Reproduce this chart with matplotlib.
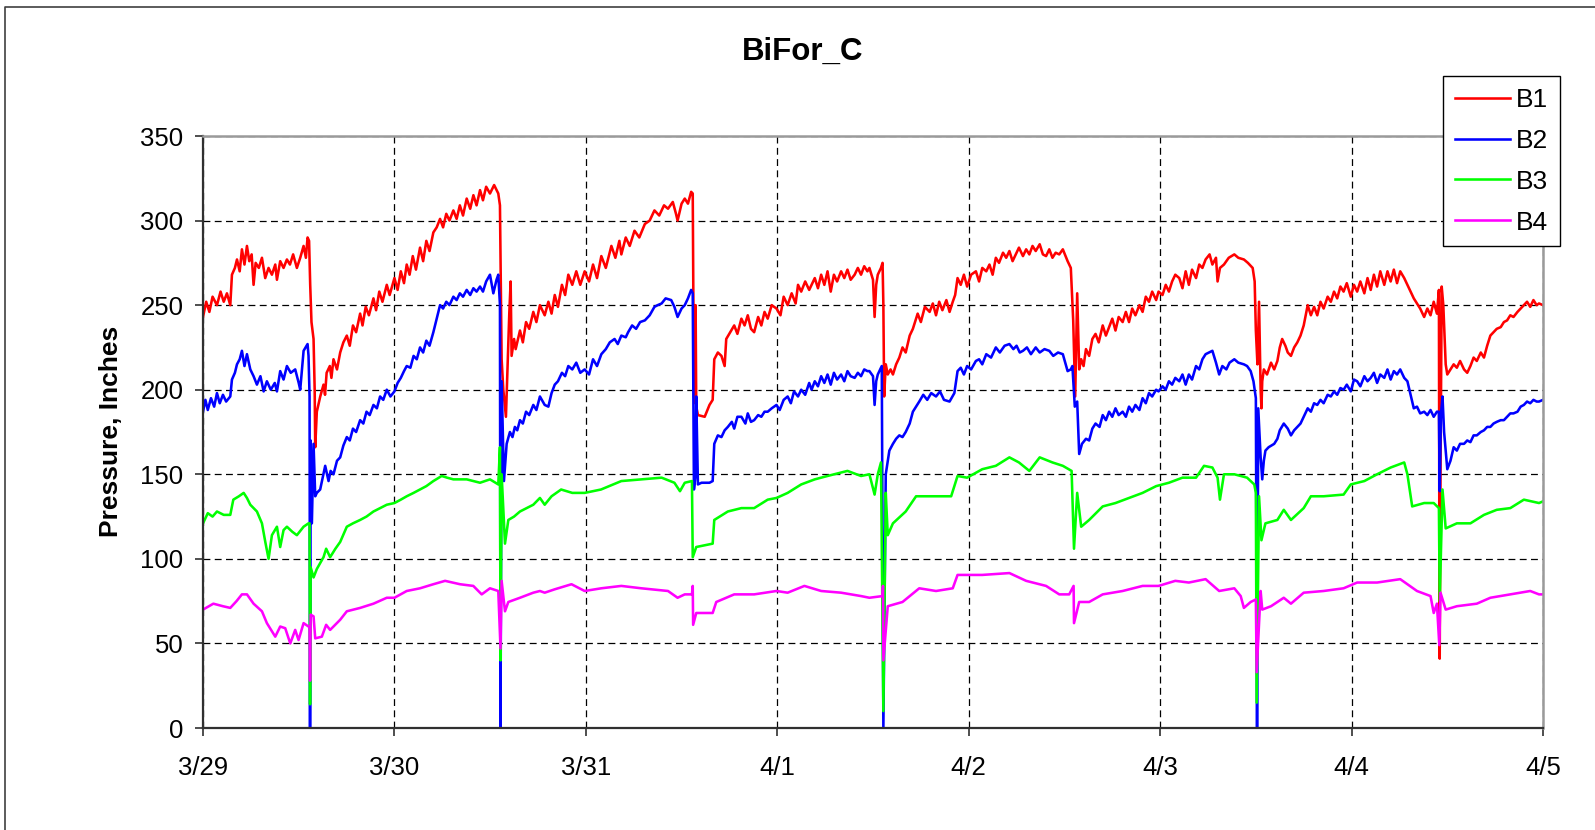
import matplotlib
matplotlib.use("Agg")
import matplotlib.pyplot as plt
from matplotlib.lines import Line2D

plt.rcParams['font.family'] = ['Liberation Sans', 'DejaVu Sans']

# readings: (hours since 3/29 00:00, pressure in inches)
B1_POINTS = [
    (0, 243), (0.4, 252), (0.8, 246), (1.2, 255), (1.75, 250), (2.2, 258), (2.6, 252), (3.0, 257),
    (3.42, 250), (3.63, 268), (4.0, 272), (4.26, 277), (4.6, 270), (4.88, 283), (5.2, 274), (5.51, 285),
    (5.8, 276), (6.1, 280), (6.34, 262), (6.6, 275), (7.0, 272), (7.39, 278), (7.8, 266), (8.22, 272),
    (8.64, 268), (9.06, 274), (9.27, 265), (9.68, 276), (10.1, 272), (10.52, 277), (10.9, 274), (11.3, 280),
    (11.77, 272), (12.19, 278), (12.61, 285), (12.9, 278), (13.11, 290), (13.3, 288), (13.44, 262),
    (13.6, 240), (13.86, 230), (14.0, 200), (14.07, 166), (14.27, 187), (14.7, 196), (15.11, 203),
    (15.3, 197), (15.5, 210), (15.9, 214), (16.1, 207), (16.36, 218), (16.8, 212), (17.2, 222), (17.6, 228),
    (18.03, 232), (18.4, 226), (18.8, 238), (19.2, 234), (19.7, 245), (20.0, 238), (20.4, 249), (20.8, 244),
    (21.37, 254), (21.7, 247), (22.1, 258), (22.5, 252), (23.04, 262), (23.4, 256), (24.0, 266), (24.4, 259),
    (24.8, 270), (25.2, 263), (25.54, 274), (25.9, 268), (26.3, 279), (26.7, 271), (27.21, 284), (27.6, 276),
    (28.0, 288), (28.4, 282), (28.88, 293), (29.3, 296), (29.72, 301), (30.1, 296), (30.5, 304), (30.9, 300),
    (31.39, 306), (31.8, 301), (32.2, 309), (32.6, 303), (33.06, 313), (33.5, 307), (33.9, 315), (34.3, 309),
    (34.73, 318), (35.1, 312), (35.5, 320), (35.98, 316), (36.5, 321), (37.02, 316), (37.23, 309),
    (37.44, 218), (37.65, 200), (37.98, 184), (38.2, 215), (38.4, 245), (38.57, 264), (38.69, 220),
    (39.0, 230), (39.2, 224), (39.74, 235), (40.1, 228), (40.5, 240), (40.9, 236), (41.41, 246), (41.8, 240),
    (42.24, 250), (42.84, 244), (43.3, 252), (43.7, 245), (44.1, 256), (44.5, 249), (45.0, 262), (45.4, 256),
    (45.8, 268), (46.3, 262), (46.8, 270), (47.3, 262), (47.85, 270), (48.4, 264), (48.9, 274), (49.4, 266),
    (49.94, 279), (50.5, 272), (51.2, 285), (51.7, 278), (52.2, 288), (52.45, 280), (53.0, 290), (53.5, 285),
    (54.1, 294), (54.7, 290), (55.4, 298), (56.0, 300), (56.6, 306), (57.2, 303), (57.8, 309), (58.3, 307),
    (58.9, 311), (59.3, 304), (59.5, 300), (60.0, 310), (60.4, 313), (60.8, 310), (61.2, 317), (61.4, 316),
    (61.55, 196), (61.7, 192), (61.76, 250), (61.84, 190), (62.05, 185), (62.9, 184), (63.5, 191),
    (63.9, 194), (64.1, 218), (64.55, 222), (65.0, 220), (65.4, 214), (65.6, 230), (66.1, 234), (66.6, 238),
    (67.0, 233), (67.5, 242), (67.9, 238), (68.3, 244), (68.7, 236), (69.1, 234), (69.6, 243), (70.0, 238),
    (70.4, 246), (70.8, 242), (71.3, 250), (71.9, 248), (72.4, 244), (72.8, 255), (73.3, 250), (73.8, 257),
    (74.3, 251), (74.6, 262), (75.0, 258), (75.5, 264), (76.0, 259), (76.7, 266), (77.1, 260), (77.5, 268),
    (77.9, 262), (78.3, 270), (78.7, 258), (79.1, 268), (79.5, 264), (80.0, 270), (80.4, 266), (80.8, 271),
    (81.2, 265), (81.7, 268), (82.1, 272), (82.5, 268), (82.9, 273), (83.3, 270), (83.55, 272), (84.0, 265),
    (84.2, 243), (84.4, 262), (84.6, 268), (85.0, 272), (85.2, 275), (85.3, 250), (85.4, 196), (85.6, 215),
    (85.85, 209), (86.2, 212), (86.5, 209), (86.9, 215), (87.3, 219), (87.7, 225), (88.1, 222), (88.6, 232),
    (89.0, 236), (89.6, 245), (90.0, 240), (90.5, 249), (91.1, 246), (91.5, 251), (91.9, 244), (92.3, 252),
    (92.7, 247), (93.2, 253), (93.6, 246), (94.0, 252), (94.3, 256), (94.6, 266), (95.0, 262), (95.4, 268),
    (95.8, 261), (96.3, 268), (96.9, 270), (97.3, 264), (97.7, 272), (98.2, 270), (98.6, 274), (99.0, 268),
    (99.4, 278), (99.8, 275), (100.3, 281), (100.7, 278), (101.1, 282), (101.5, 276), (101.9, 280),
    (102.3, 284), (102.8, 279), (103.2, 283), (103.6, 280), (104.0, 285), (104.4, 282), (104.9, 286),
    (105.3, 280), (105.7, 279), (106.1, 283), (106.5, 278), (106.9, 281), (107.35, 280), (107.8, 283),
    (108.4, 276), (108.8, 272), (109.1, 241), (109.35, 196), (109.6, 257), (109.85, 212), (110.1, 218),
    (110.4, 214), (110.7, 224), (111.1, 220), (111.5, 230), (111.9, 233), (112.3, 228), (112.8, 238),
    (113.2, 232), (113.6, 237), (114.0, 242), (114.4, 235), (114.8, 243), (115.3, 240), (115.7, 246),
    (116.1, 240), (116.5, 248), (116.9, 244), (117.4, 250), (117.8, 246), (118.2, 255), (118.6, 252),
    (119.0, 258), (119.5, 253), (119.8, 258), (120.3, 256), (120.7, 262), (121.1, 258), (121.5, 264),
    (121.9, 268), (122.4, 266), (122.8, 260), (123.2, 270), (123.6, 262), (124.0, 271), (124.5, 266),
    (124.9, 274), (125.3, 272), (125.7, 277), (126.2, 280), (126.55, 274), (127.0, 278), (127.2, 264),
    (127.5, 272), (128.0, 274), (128.6, 278), (129.3, 280), (129.8, 278), (130.5, 277), (131.0, 275),
    (131.6, 272), (131.85, 264), (132.0, 235), (132.2, 215), (132.4, 252), (132.6, 200), (132.7, 189),
    (132.8, 205), (133.0, 212), (133.4, 209), (133.9, 216), (134.3, 212), (134.7, 217), (135.0, 225),
    (135.3, 230), (135.7, 226), (136.0, 222), (136.4, 220), (136.8, 225), (137.2, 228), (137.6, 232),
    (138.0, 238), (138.5, 250), (138.9, 244), (139.3, 249), (139.7, 244), (140.1, 252), (140.5, 248),
    (141.0, 255), (141.4, 252), (141.8, 258), (142.2, 254), (142.6, 261), (143.0, 258), (143.4, 263),
    (143.9, 255), (144.3, 262), (144.7, 258), (145.1, 264), (145.6, 257), (146.0, 266), (146.4, 259),
    (146.8, 268), (147.2, 261), (147.6, 270), (148.1, 262), (148.5, 270), (148.9, 264), (149.3, 271),
    (149.7, 263), (150.1, 270), (150.6, 266), (151.0, 262), (151.4, 258), (151.8, 254), (152.2, 251),
    (152.6, 248), (153.1, 243), (153.5, 248), (153.9, 244), (154.3, 252), (154.7, 245), (154.95, 259),
    (155.0, 120), (155.05, 41), (155.15, 150), (155.3, 261), (155.5, 250), (155.8, 215), (156.0, 209),
    (156.4, 212), (156.8, 215), (157.2, 213), (157.6, 217), (158.1, 212), (158.5, 210), (158.9, 214),
    (159.3, 219), (159.7, 217), (160.2, 222), (160.6, 219), (161.0, 226), (161.4, 232), (161.8, 234),
    (162.2, 236), (162.7, 237), (163.1, 240), (163.5, 241), (163.9, 244), (164.3, 243), (164.8, 246),
    (165.2, 248), (165.6, 250), (166.0, 252), (166.4, 249), (166.8, 253), (167.2, 250), (167.5, 251),
    (168.0, 250),
]

B2_POINTS = [
    (0, 187), (0.3, 194), (0.6, 188), (1.0, 195), (1.4, 190), (1.75, 198), (2.1, 192), (2.5, 197),
    (2.9, 193), (3.42, 196), (3.63, 206), (4.0, 210), (4.26, 215), (4.6, 218), (4.88, 223), (5.2, 214),
    (5.51, 221), (5.93, 212), (6.34, 208), (6.76, 203), (7.2, 208), (7.6, 199), (8.01, 205), (8.5, 200),
    (9.0, 204), (9.27, 199), (9.68, 211), (10.1, 206), (10.52, 214), (11.0, 210), (11.56, 212), (12.0, 204),
    (12.19, 200), (12.61, 223), (13.11, 227), (13.23, 220), (13.36, 196), (13.42, 0), (13.5, 170),
    (13.65, 121), (13.86, 168), (14.07, 137), (14.27, 139), (14.69, 141), (15.0, 148), (15.32, 155),
    (15.74, 146), (16.0, 152), (16.36, 150), (16.8, 158), (17.2, 160), (17.6, 167), (18.03, 172),
    (18.4, 170), (18.8, 177), (19.2, 175), (19.7, 182), (20.1, 180), (20.5, 187), (20.9, 185), (21.37, 191),
    (21.8, 189), (22.2, 196), (22.6, 194), (23.04, 200), (23.5, 196), (24.0, 199), (24.4, 204), (24.8, 207),
    (25.2, 211), (25.54, 214), (26.0, 213), (26.4, 220), (26.8, 218), (27.21, 225), (27.6, 222), (28.0, 229),
    (28.4, 226), (28.88, 234), (29.3, 242), (29.72, 250), (30.1, 248), (30.5, 252), (30.9, 250),
    (31.39, 255), (31.8, 253), (32.2, 257), (32.6, 255), (33.06, 259), (33.5, 256), (33.9, 260), (34.3, 258),
    (34.73, 261), (35.1, 258), (35.5, 264), (35.98, 268), (36.4, 257), (36.8, 265), (37.02, 268),
    (37.23, 250), (37.3, 0), (37.44, 205), (37.73, 146), (38.07, 168), (38.48, 175), (38.8, 172),
    (39.1, 178), (39.4, 176), (39.74, 182), (40.1, 180), (40.5, 187), (40.9, 185), (41.41, 191), (41.8, 188),
    (42.24, 196), (42.84, 191), (43.3, 190), (43.7, 198), (44.1, 203), (44.5, 205), (45.0, 210), (45.4, 208),
    (45.8, 214), (46.3, 212), (46.8, 216), (47.3, 210), (47.85, 212), (48.4, 209), (48.9, 218), (49.4, 214),
    (49.94, 221), (50.5, 224), (51.0, 228), (51.6, 230), (52.0, 227), (52.45, 232), (53.0, 231), (53.3, 234),
    (53.8, 238), (54.3, 236), (54.8, 240), (55.4, 241), (56.0, 244), (56.6, 249), (57.0, 250), (57.5, 251),
    (58.0, 254), (58.7, 253), (59.1, 249), (59.5, 243), (60.0, 248), (60.4, 250), (60.8, 254), (61.2, 259),
    (61.4, 257), (61.55, 141), (61.76, 150), (61.84, 196), (62.05, 144), (62.5, 145), (63.5, 145),
    (63.9, 146), (64.1, 168), (64.55, 173), (65.0, 172), (65.4, 176), (65.8, 178), (66.3, 181), (66.6, 177),
    (67.0, 184), (67.5, 184), (68.0, 180), (68.3, 186), (68.7, 181), (69.1, 182), (69.6, 185), (70.0, 184),
    (70.4, 187), (70.8, 187), (71.3, 189), (71.9, 191), (72.3, 188), (72.8, 194), (73.3, 196), (73.7, 192),
    (74.1, 199), (74.6, 196), (75.0, 200), (75.5, 197), (76.0, 204), (76.3, 200), (76.7, 205), (77.1, 202),
    (77.5, 208), (77.9, 204), (78.3, 209), (78.7, 203), (79.1, 210), (79.5, 206), (80.0, 209), (80.4, 205),
    (80.8, 211), (81.2, 208), (81.7, 207), (82.1, 210), (82.5, 208), (82.9, 212), (83.3, 211), (83.55, 211),
    (84.0, 208), (84.2, 191), (84.4, 205), (84.6, 209), (85.1, 214), (85.3, 0), (85.6, 150), (85.85, 158),
    (86.05, 164), (86.5, 168), (86.9, 171), (87.3, 173), (87.7, 172), (88.1, 175), (88.6, 180), (89.0, 187),
    (89.4, 190), (89.8, 193), (90.3, 197), (90.8, 194), (91.3, 198), (91.9, 196), (92.4, 199), (92.9, 194),
    (93.6, 193), (94.2, 198), (94.6, 211), (95.0, 213), (95.4, 209), (95.8, 214), (96.3, 212), (96.9, 217),
    (97.3, 218), (97.7, 215), (98.2, 221), (98.8, 219), (99.4, 225), (99.9, 222), (100.5, 226), (101.1, 227),
    (101.6, 224), (102.0, 226), (102.4, 222), (102.8, 223), (103.3, 225), (103.8, 221), (104.4, 225),
    (104.9, 222), (105.5, 224), (106.1, 223), (106.6, 220), (107.2, 222), (107.8, 221), (108.4, 211),
    (108.8, 212), (109.0, 214), (109.3, 190), (109.6, 193), (109.85, 162), (110.2, 168), (110.7, 171),
    (111.1, 170), (111.5, 177), (111.9, 180), (112.4, 178), (112.8, 185), (113.2, 182), (113.6, 187),
    (114.0, 184), (114.4, 189), (114.8, 185), (115.3, 187), (115.7, 184), (116.1, 190), (116.5, 187),
    (116.9, 191), (117.4, 188), (117.8, 195), (118.2, 192), (118.6, 198), (119.0, 196), (119.5, 200),
    (119.8, 199), (120.3, 202), (120.7, 200), (121.1, 205), (121.5, 203), (121.9, 207), (122.4, 205),
    (122.8, 209), (123.2, 203), (123.6, 209), (124.0, 206), (124.5, 214), (124.9, 212), (125.3, 218),
    (125.7, 221), (126.55, 223), (127.0, 216), (127.4, 209), (127.8, 214), (128.3, 212), (128.7, 216),
    (129.3, 218), (129.8, 216), (130.5, 215), (130.9, 214), (131.35, 211), (131.7, 205), (132.0, 195),
    (132.15, 0), (132.3, 189), (132.6, 160), (132.8, 147), (133.0, 158), (133.2, 164), (133.6, 166),
    (134.3, 168), (134.7, 171), (135.0, 176), (135.5, 180), (136.0, 177), (136.4, 173), (136.8, 176),
    (137.2, 178), (137.6, 180), (138.0, 184), (138.5, 189), (138.9, 187), (139.3, 192), (139.7, 191),
    (140.1, 194), (140.5, 192), (141.0, 197), (141.4, 196), (141.8, 199), (142.2, 197), (142.6, 201),
    (143.0, 200), (143.4, 203), (143.9, 199), (144.3, 206), (144.7, 205), (145.1, 202), (145.6, 208),
    (146.0, 205), (146.4, 207), (146.8, 210), (147.2, 204), (147.6, 209), (148.1, 207), (148.5, 212),
    (148.9, 206), (149.3, 211), (149.7, 209), (150.1, 212), (150.6, 207), (151.0, 205), (151.4, 197),
    (151.8, 189), (152.2, 190), (152.6, 186), (153.1, 187), (153.5, 185), (153.9, 188), (154.3, 184),
    (154.7, 187), (154.95, 187), (155.05, 140), (155.2, 185), (155.4, 196), (155.6, 175), (156.0, 153),
    (156.4, 158), (156.8, 166), (157.2, 164), (157.6, 168), (158.1, 168), (158.5, 170), (158.9, 169),
    (159.3, 173), (159.7, 173), (160.2, 175), (160.6, 176), (161.0, 178), (161.4, 178), (161.8, 180),
    (162.2, 181), (162.7, 182), (163.1, 182), (163.5, 184), (163.9, 186), (164.3, 186), (164.8, 187),
    (165.2, 190), (165.6, 191), (166.0, 193), (166.4, 192), (166.8, 194), (167.2, 193), (167.5, 193),
    (168.0, 194),
]

B3_POINTS = [
    (0, 121), (0.6, 127), (1.2, 125), (1.75, 128), (2.6, 126), (3.42, 126), (3.8, 135), (4.5, 137),
    (5.1, 139), (5.51, 136), (5.93, 132), (6.76, 128), (7.39, 121), (7.81, 110), (8.22, 100), (8.64, 114),
    (9.27, 119), (9.68, 107), (10.1, 117), (10.52, 119), (11.2, 116), (11.77, 114), (12.61, 119),
    (13.23, 121), (13.36, 121), (13.42, 14), (13.5, 95), (13.86, 89), (14.27, 94), (15.11, 101),
    (15.44, 106), (15.94, 101), (16.6, 106), (17.2, 110), (18.03, 119), (18.8, 121), (19.7, 123),
    (20.5, 125), (21.37, 128), (22.2, 130), (23.04, 132), (24.0, 133), (24.8, 135), (25.54, 137),
    (26.4, 139), (27.21, 141), (28.0, 143), (28.88, 146), (29.93, 149), (30.6, 148), (31.39, 147),
    (33.06, 147), (34.73, 145), (35.98, 147), (37.02, 144), (37.23, 166), (37.3, 40), (37.44, 150),
    (37.86, 109), (38.28, 123), (39.0, 125), (39.74, 128), (41.41, 132), (42.24, 136), (42.84, 132),
    (43.7, 137), (44.9, 141), (46.3, 139), (47.85, 139), (49.9, 141), (52.45, 146), (54.95, 147),
    (57.5, 148), (59.1, 145), (59.8, 140), (60.4, 145), (61.3, 146), (61.4, 101), (61.84, 107), (63.9, 109),
    (64.1, 123), (65.8, 128), (67.5, 130), (69.1, 130), (70.8, 135), (71.9, 136), (73.3, 139), (75.0, 144),
    (76.7, 147), (78.3, 149), (80.8, 152), (82.5, 149), (83.55, 150), (84.2, 138), (84.6, 150), (85.0, 157),
    (85.3, 10), (85.6, 139), (85.85, 114), (86.5, 121), (88.1, 128), (89.4, 137), (91.9, 137), (93.8, 137),
    (94.6, 149), (95.8, 148), (97.7, 153), (99.4, 155), (101.1, 160), (102.3, 157), (103.6, 152),
    (104.9, 160), (106.5, 157), (107.8, 155), (108.9, 152), (109.2, 106), (109.6, 139), (110.1, 119),
    (111.1, 123), (112.8, 131), (114.4, 133), (116.1, 136), (117.8, 139), (119.5, 143), (121.1, 145),
    (122.8, 148), (124.5, 148), (125.5, 155), (126.55, 154), (127.2, 148), (127.5, 135), (128.0, 150),
    (129.3, 150), (130.9, 148), (131.8, 144), (132.0, 139), (132.1, 15), (132.4, 137), (132.7, 111),
    (133.2, 121), (134.7, 123), (135.5, 129), (136.4, 123), (138.0, 130), (138.9, 137), (140.5, 137),
    (143.0, 138), (143.9, 144), (145.6, 146), (147.2, 150), (148.9, 154), (150.6, 157), (151.0, 150),
    (151.6, 131), (153.1, 133), (154.3, 133), (154.95, 130), (155.05, 75), (155.4, 141), (155.8, 118),
    (157.2, 121), (158.9, 121), (160.6, 126), (162.2, 129), (163.9, 130), (165.6, 135), (167.5, 133),
    (168.0, 134),
]

B4_POINTS = [
    (0, 70), (1.3, 73.5), (2.5, 72), (3.42, 71), (4.2, 75), (4.88, 79), (5.51, 79), (6.34, 73.5),
    (7.39, 69), (8.01, 62), (9.06, 54), (9.68, 60), (10.31, 59), (10.94, 50), (11.56, 58), (11.98, 52),
    (12.61, 62), (13.23, 60), (13.36, 60), (13.42, 28), (13.5, 67), (13.86, 66), (14.07, 53), (14.9, 54),
    (15.44, 61), (15.94, 58), (17.2, 64), (18.03, 69), (19.7, 71), (21.37, 73.5), (23.04, 77), (24.0, 77),
    (25.54, 81), (27.21, 82.6), (28.88, 85), (30.35, 87), (32.22, 85), (33.89, 84), (34.94, 79),
    (35.98, 82.6), (37.02, 81), (37.3, 47), (37.44, 87), (37.86, 69), (38.28, 74.5), (39.74, 77),
    (41.41, 80), (42.24, 81), (42.84, 80), (44.1, 82), (46.2, 85), (47.85, 81), (49.94, 82.6), (52.45, 84),
    (54.95, 82.6), (58.3, 81), (59.5, 77), (60.4, 79), (61.3, 79), (61.4, 84), (61.45, 61), (61.84, 68),
    (63.9, 68), (64.35, 74.5), (66.6, 79), (69.1, 79), (71.9, 81), (73.3, 80), (75.4, 84), (77.5, 81),
    (80.0, 80), (82.5, 78), (83.55, 77), (85.2, 78), (85.25, 84), (85.3, 40), (85.85, 72), (87.7, 74.5),
    (89.8, 82.6), (91.9, 81), (94.0, 82.6), (94.6, 90.5), (95.8, 90.5), (97.7, 90.5), (101.1, 91.6),
    (103.2, 87), (105.7, 84), (107.35, 79), (108.6, 79), (109.15, 84), (109.2, 62), (109.85, 74.5),
    (111.1, 74.5), (112.8, 79), (115.3, 81), (117.8, 84), (119.8, 84), (121.9, 87), (123.6, 86),
    (125.7, 88), (127.4, 81), (129.3, 82.6), (130.1, 78), (130.5, 71), (131.35, 74.5), (132.0, 76),
    (132.1, 33), (132.6, 81), (132.8, 70), (133.9, 72), (135.5, 77), (136.4, 73.5), (138.0, 80),
    (140.5, 81), (143.0, 82.6), (144.7, 86), (147.2, 86), (150.1, 88), (152.2, 81), (153.9, 78),
    (154.3, 68), (154.7, 73.5), (155.0, 49), (155.15, 80), (155.8, 70), (157.2, 72), (159.7, 73.5),
    (161.4, 77), (163.9, 79), (166.4, 81), (167.5, 79), (168.0, 79),
]

SERIES = ['B1', 'B2', 'B3', 'B4']
COLORS = ['#FF0000', '#0000FF', '#00FF00', '#FF00FF']
DAY_LABELS = ['3/29', '3/30', '3/31', '4/1', '4/2', '4/3', '4/4', '4/5']
Y_TICKS = [0, 50, 100, 150, 200, 250, 300, 350]

W, H = 1595, 830
fig = plt.figure(figsize=(W / 100, H / 100), dpi=100)
ax = fig.add_axes([203 / W, 1 - 728 / H, 1340 / W, 592 / H])

for name, pts, col in zip(SERIES, [B1_POINTS, B2_POINTS, B3_POINTS, B4_POINTS], COLORS):
    days = [p[0] / 24 for p in pts]
    vals = [p[1] for p in pts]
    ax.plot(days, vals, color=col, lw=1.85, label=name)

ax.set_xlim(0, 7)
ax.set_ylim(0, 350)
ax.set_xticks(range(len(DAY_LABELS)))
ax.set_xticklabels(DAY_LABELS)
ax.set_yticks(Y_TICKS)

ax.set_axisbelow(True)
ax.grid(True, color='black', lw=0.9, linestyle=(0, (5.5, 3.5)))

for side in ['top', 'right']:
    ax.spines[side].set_color('#9a9a9a')
    ax.spines[side].set_linewidth(1.8)
for side in ['left', 'bottom']:
    ax.spines[side].set_color('#303030')
    ax.spines[side].set_linewidth(1.6)

ax.tick_params(axis='both', direction='out', length=6, width=1.2, color='#303030',
               labelsize=18.5, colors='black')
ax.tick_params(axis='x', pad=14)
ax.tick_params(axis='y', pad=8)

fig.text(803 / W, 1 - 52 / H, 'BiFor_C', fontsize=22.5, fontweight='bold',
         ha='center', va='center')
fig.text(111 / W, 1 - 431 / H, 'Pressure, Inches', fontsize=19, fontweight='bold',
         rotation=90, ha='center', va='center')

leg = fig.legend(loc='upper left', bbox_to_anchor=(1443 / W, 1 - 76 / H),
                 bbox_transform=fig.transFigure, fontsize=19, frameon=True,
                 fancybox=False, framealpha=1, edgecolor='black', borderaxespad=0,
                 handlelength=2.1, handletextpad=0.22, labelspacing=0.64,
                 borderpad=0.45)
leg.get_frame().set_linewidth(1.0)
for h in leg.get_lines():
    h.set_linewidth(1.85)

# figure border (only left and top edges visible in the reference)
fig.add_artist(Line2D([5 / W, 5 / W, 1.01], [-0.01, 1 - 7 / H, 1 - 7 / H],
                      transform=fig.transFigure, color='#404040', lw=1.2))

fig.savefig('out.png', dpi=100)
